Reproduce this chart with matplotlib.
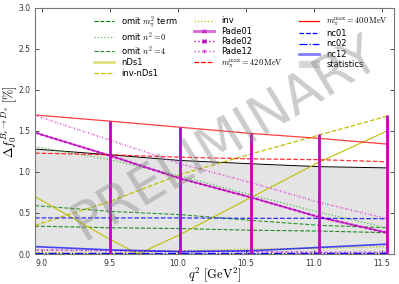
import matplotlib
matplotlib.use('Agg')
import matplotlib.pyplot as plt
import matplotlib.patheffects as pe
from matplotlib.lines import Line2D
from matplotlib.patches import Patch

plt.rcParams['mathtext.fontset'] = 'cm'

q2 = [8.95, 9.5, 10.02, 10.54, 11.04, 11.54]

stat_hi = [1.28, 1.21, 1.14, 1.10, 1.065, 1.05]
omit_mpi = [0.59, 0.52, 0.48, 0.41, 0.35, 0.32]
omit_n0 = [1.31, 1.15, 0.95, 0.72, 0.51, 0.32]
omit_n4 = [0.34, 0.32, 0.31, 0.29, 0.28, 0.26]
q2_nds1 = [8.95, 9.5, 9.71, 10.02, 10.54, 11.04, 11.54]
nds1 = [0.70, 0.18, 0.0, 0.24, 0.69, 1.12, 1.50]
inv_nds1 = [0.35, 0.64, 0.97, 1.22, 1.45, 1.68]
inv = [0.02, 0.01, 0.04, 0.06, 0.07, 0.09]
pade01 = [1.48, 1.20, 0.92, 0.69, 0.45, 0.26]
pade02 = [0.05, 0.04, 0.03, 0.03, 0.02, 0.02]
pade12 = [1.69, 1.39, 1.10, 0.87, 0.63, 0.43]
m420 = [1.23, 1.21, 1.18, 1.16, 1.15, 1.125]
m400 = [1.695, 1.62, 1.545, 1.47, 1.41, 1.34]
nc01 = [0.44, 0.44, 0.44, 0.435, 0.435, 0.43]
nc02 = [0.01, 0.01, 0.01, 0.01, 0.01, 0.01]
nc12 = [0.09, 0.05, 0.03, 0.04, 0.08, 0.12]

# vertical bars (total error)
err_q2 = [9.5, 10.02, 10.54, 11.04, 11.54]
err_top = [1.625, 1.545, 1.475, 1.46, 1.70]

xticks = [9.0, 9.5, 10.0, 10.5, 11.0, 11.5]
yticks = [0.0, 0.5, 1.0, 1.5, 2.0, 2.5, 3.0]

fig = plt.figure(figsize=(3.99, 2.84), dpi=100)
ax = fig.add_axes([0.0877, 0.1056, 0.8993, 0.8664])

# statistics band
ax.fill_between(q2, 0, stat_hi, color='#e4e4e4', lw=0, zorder=1)
ax.plot(q2, stat_hi, color='k', lw=0.7, zorder=2)

# small marks along the pade lines
def crosses(sp, angles):
    return [pe.TickedStroke(spacing=sp, angle=a, length=0.3, linewidth=0.5)
            for a in angles] + [pe.Normal()]

ax.plot(q2, omit_mpi, '--', color='g', lw=0.8, alpha=0.8)
ax.plot(q2, omit_n0, ':', color='#55bb55', lw=0.9)
ax.plot(q2, omit_n4, '--', color='#228822', lw=0.8)
ax.plot(q2_nds1, nds1, '-', color='y', lw=0.8)
ax.plot(q2, inv_nds1, '--', color='y', lw=0.9)
ax.plot(q2, inv, ':', color='y', lw=0.9)
ax.plot(q2, pade01, '-', color='m', lw=1.0, alpha=0.9,
        path_effects=crosses(3.5, [45, -135, 135, -45]))
ax.plot(q2, pade02, ':', color='m', lw=0.8, alpha=0.6,
        path_effects=crosses(3.5, [45, -135, 135, -45]))
ax.plot(q2, pade12, ':', color='#dd44dd', lw=0.8, alpha=0.8,
        path_effects=crosses(3.5, [90, -90]))
ax.plot(q2, m420, '--', color='r', lw=0.9, alpha=0.8)
ax.plot(q2, m400, '-', color='r', lw=0.9, alpha=0.75)
ax.plot(q2, nc01, '--', color='b', lw=0.9, alpha=0.8)
ax.plot(q2, nc02, '-.', color='b', lw=0.9)
ax.plot(q2, nc12, '-', color='b', lw=1.2, alpha=0.7)

ax.vlines(err_q2, 0, err_top, color='#c000c0', lw=2.0, zorder=5)

ax.text(0.53, 0.47, 'PRELIMINARY', transform=ax.transAxes, fontsize=38,
        color='gray', alpha=0.4, rotation=31, ha='center', va='center',
        zorder=6)

handles = [
    Line2D([], [], ls='--', color='g', lw=0.8),
    Line2D([], [], ls=':', color='#55bb55', lw=0.9),
    Line2D([], [], ls='--', color='#228822', lw=0.8),
    Line2D([], [], ls='-', color='y', lw=2.0, alpha=0.5),
    Line2D([], [], ls='--', color='y', lw=0.9),
    Line2D([], [], ls=':', color='y', lw=0.9),
    Line2D([], [], ls='-', color='m', lw=2.0, alpha=0.6, marker='x', ms=3),
    Line2D([], [], ls=':', color='m', lw=1.0, marker='x', ms=3),
    Line2D([], [], ls=':', color='#dd44dd', lw=1.0, marker='+', ms=3),
    Line2D([], [], ls='--', color='r', lw=0.9),
    Line2D([], [], ls='-', color='r', lw=0.9),
    Line2D([], [], ls='--', color='b', lw=0.9),
    Line2D([], [], ls='-.', color='b', lw=0.9),
    Line2D([], [], ls='-', color='b', lw=2.0, alpha=0.5),
    Patch(color='#d8d8d8'),
]
labels = ['omit $m_\\pi^2$ term', 'omit $n^2=0$', 'omit $n^2=4$', 'nDs1',
          'inv-nDs1', 'inv', 'Pade01', 'Pade02', 'Pade12',
          '$m_\\pi^{\\max}=420\\,\\mathrm{MeV}$',
          '$m_\\pi^{\\max}=400\\,\\mathrm{MeV}$', 'nc01', 'nc02', 'nc12',
          'statistics']
ax.legend(handles, labels, ncol=3, loc='upper right', frameon=False,
          fontsize=6, labelspacing=0.15, handlelength=2.4, columnspacing=2.0,
          handletextpad=0.8, borderaxespad=0.3, bbox_to_anchor=(1.0, 1.0))

ax.set_xlim(8.95, 11.59)
ax.set_ylim(0, 3.0)
ax.set_xticks(xticks)
ax.set_yticks(yticks)
ax.tick_params(direction='in', labelsize=5.5, top=True, right=True,
               length=3, width=0.6, colors='#333333')
for s in ax.spines.values():
    s.set_color('#777777')
ax.set_xlabel('$q^2\\ [\\mathrm{GeV}^2]$', fontsize=9, va='top')
ax.xaxis.set_label_coords(0.5, -0.045)
ax.set_ylabel('$\\Delta f_0^{B_s\\to D_s}\\ [\\%]$', fontsize=9)
ax.yaxis.set_label_coords(-0.045, 0.54)

fig.savefig('out.png', dpi=100)
